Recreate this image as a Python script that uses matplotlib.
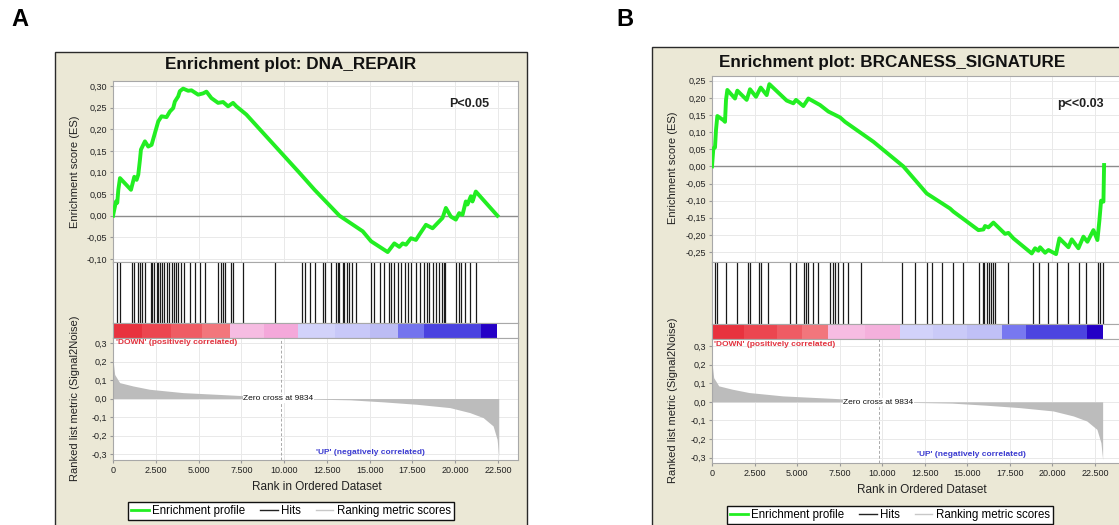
import matplotlib.pyplot as plt
from matplotlib.patches import Rectangle
from matplotlib.lines import Line2D
from matplotlib.ticker import FuncFormatter, MultipleLocator

plt.rcParams['font.family'] = ['Liberation Sans', 'DejaVu Sans']

W, H = 1119, 525

# ---- panel A: DNA_REPAIR
es_rank_a = [0, 175, 250, 311, 408, 1050, 1244, 1380, 1477, 1574, 1633, 1866, 2060, 2255,
             2643, 2837, 3129, 3323, 3518, 3615, 3809, 3906, 4100, 4392, 4586, 4975, 5267,
             5461, 5752, 6141, 6433, 6725, 7015, 7210, 7793, 10902, 11778, 13236, 14594,
             15080, 16052, 16149, 16440, 16732, 16926, 17121, 17412, 17704, 17898, 18287,
             18481, 18676, 19064, 19259, 19453, 19744, 20036, 20230, 20425, 20619, 20716,
             20911, 21008, 21203, 22466]
es_val_a = [0.0, 0.033, 0.030, 0.060, 0.087, 0.060, 0.090, 0.083, 0.095, 0.129, 0.153, 0.172,
            0.160, 0.164, 0.218, 0.230, 0.228, 0.241, 0.249, 0.264, 0.276, 0.288, 0.294, 0.289,
            0.290, 0.280, 0.283, 0.287, 0.272, 0.261, 0.263, 0.253, 0.261, 0.253, 0.234, 0.099,
            0.060, 0.0, -0.036, -0.059, -0.084, -0.079, -0.064, -0.072, -0.064, -0.067, -0.052,
            -0.056, -0.044, -0.021, -0.025, -0.029, -0.013, -0.005, 0.018, -0.002, -0.009,
            0.006, 0.002, 0.033, 0.026, 0.045, 0.033, 0.056, 0.0]
hits_a = [214, 408, 1088, 1224, 1477, 1574, 1710, 1866, 2196, 2293, 2410, 2546, 2643, 2740,
          2876, 2993, 3129, 3285, 3421, 3557, 3673, 3809, 3945, 4139, 4489, 4781, 5072, 5402,
          6141, 6297, 6433, 6569, 6880, 7015, 7598, 9483, 11038, 11194, 11524, 11777, 12263,
          12418, 12749, 13040, 13137, 13234, 13429, 13526, 13662, 13817, 13953, 14206, 15080,
          15236, 15605, 15858, 16149, 16246, 16401, 16635, 16829, 17082, 17257, 17412, 17704,
          17956, 18190, 18345, 18481, 18676, 18870, 19064, 19200, 19317, 19395, 20036, 20192,
          20328, 20561, 20872, 21203]
bar_bounds_a = [0, 1700, 3400, 5200, 6821, 8800, 10806, 13000, 15000, 16635, 18190, 21494, 22465]
bar_colors_a = ['#e8323e', '#ec4650', '#ef5c64', '#f2767c', '#f6bce2', '#f4a8da', '#d2d2fa',
                '#c8c8f8', '#bcbcf4', '#7474ee', '#4a42e0', '#2400c6']
metric_rank_a = [0, 97, 389, 1166, 2138, 4082, 6025, 7968, 9834, 13857, 15800, 17744, 19687,
                 20853, 21630, 22213, 22446, 22543]

# ---- panel B: BRCANESS_SIGNATURE
es_rank_b = [0, 80, 176, 235, 313, 666, 764, 823, 901, 1351, 1488, 2037, 2233, 2585, 2860,
             3213, 3369, 4388, 4780, 4936, 5368, 5662, 6347, 6836, 7521, 7815, 9480, 11240,
             12615, 13986, 14182, 14867, 15651, 15945, 16043, 16239, 16533, 17218, 17413,
             17707, 18785, 18980, 19176, 19274, 19569, 19765, 20214, 20410, 20940, 21135,
             21527, 21821, 22056, 22408, 22644, 22761, 22859, 22997, 23035]
es_val_b = [0.0, 0.053, 0.055, 0.106, 0.147, 0.135, 0.130, 0.194, 0.223, 0.198, 0.221, 0.194,
            0.225, 0.203, 0.230, 0.208, 0.240, 0.192, 0.184, 0.194, 0.176, 0.198, 0.179, 0.160,
            0.143, 0.130, 0.072, 0.0, -0.079, -0.123, -0.132, -0.157, -0.186, -0.184, -0.174,
            -0.178, -0.164, -0.197, -0.194, -0.210, -0.254, -0.239, -0.246, -0.236, -0.252,
            -0.244, -0.256, -0.210, -0.236, -0.213, -0.239, -0.205, -0.220, -0.186, -0.215,
            -0.157, -0.100, -0.103, 0.004]
hits_b = [176, 275, 823, 1450, 2135, 2233, 2781, 2860, 3272, 4584, 4936, 5425, 5524, 5621,
          5955, 6249, 6934, 7130, 7228, 7424, 7678, 8012, 8756, 11146, 11929, 12615, 12948,
          13496, 14182, 14770, 15710, 15906, 15984, 16141, 16297, 16396, 16493, 16630, 17413,
          18882, 19235, 19765, 20254, 20940, 21587, 21978, 22703, 22792, 22988]
bar_bounds_b = [0, 1900, 3800, 5300, 6835, 9000, 11045, 13000, 15000, 17017, 18447, 22011, 22990]
bar_colors_b = ['#e8323e', '#ec4650', '#ef5c64', '#f2767c', '#f6bce2', '#f4b0dc', '#d2d2fa',
                '#cacaf8', '#c0c0f6', '#7878f0', '#4c44e0', '#2400c6']
metric_rank_b = [0, 99, 396, 1187, 2177, 4156, 6134, 8112, 9930, 14107, 16085, 18063, 20041,
                 21228, 22020, 22613, 22850, 22950]

# ranking metric (Signal2Noise), same list for both panels
metric_val = [0.21, 0.13, 0.086, 0.068, 0.05, 0.032, 0.023, 0.014, 0.0, -0.007, -0.018,
              -0.031, -0.049, -0.076, -0.103, -0.148, -0.22, -0.31]
zero_cross = 9834


def box(l, t, r, b):
    return [l / W, 1 - b / H, (r - l) / W, (b - t) / H]


def fx(x):
    return x / W


def fy(y):
    return 1 - y / H


fig = plt.figure(figsize=(W / 100, H / 100), dpi=100)
fig.patch.set_facecolor('white')

SPINE = '#a8a8a8'
GRID = '#e9e9e9'


def style(ax):
    for s in ax.spines.values():
        s.set_color(SPINE)
        s.set_linewidth(0.8)
    ax.tick_params(labelsize=6.5, length=2, color='#999999', pad=2, labelcolor='#222222')


def panel(g, title, ptext, es_rank, es_val, es_lim, hits, bounds, colors, m_rank):
    l, r = g['l'], g['r']
    xmax = (r - l) * g['rpp']

    fig.add_artist(Rectangle((fx(g['bx']), fy(H + 10)), fx(g['bx_r'] - g['bx']),
                             (H + 10 - g['by']) / H, transform=fig.transFigure,
                             facecolor='#ebe8d6', edgecolor='#2a2a2a', lw=1, zorder=-5))
    fig.text(fx(g['title_x']), fy(g['title_y']), title, ha='center', va='center',
             fontsize=12.3, fontweight='bold', color='#111111')

    # enrichment score
    ax = fig.add_axes(box(l, g['t'], r, g['hits']))
    ax.plot(es_rank, es_val, color='#22ee22', lw=2.8, solid_joinstyle='round', zorder=3)
    ax.axhline(0, color='#8c8c8c', lw=1, zorder=2)
    ax.set_xlim(0, xmax)
    ax.set_ylim(*es_lim)
    ax.xaxis.set_major_locator(MultipleLocator(2500))
    ax.yaxis.set_major_locator(MultipleLocator(0.05))
    ax.yaxis.set_major_formatter(FuncFormatter(lambda v, p: f'{v:.2f}'.replace('.', ',').replace('-0,00', '0,00')))
    ax.tick_params(axis='x', length=0, labelbottom=False)
    ax.grid(color=GRID, lw=0.7)
    ax.set_axisbelow(True)
    style(ax)
    fig.text(fx(g['p_x']), fy(g['p_y']), ptext, ha='center', va='center', fontsize=9,
             fontweight='bold', color='#222222')

    # hits
    axh = fig.add_axes(box(l, g['hits'], r, g['bar']))
    axh.vlines(hits, 0, 1, color='#1a1a1a', lw=0.9)
    axh.set_xlim(0, xmax)
    axh.set_ylim(0, 1)
    axh.set_xticks([])
    axh.set_yticks([])
    style(axh)

    # colour bar
    axb = fig.add_axes(box(l, g['bar'], r, g['met']))
    for i in range(len(colors)):
        axb.axvspan(bounds[i], bounds[i + 1], color=colors[i], lw=0)
    axb.set_xlim(0, xmax)
    axb.set_xticks([])
    axb.set_yticks([])
    style(axb)

    # ranked list metric
    axm = fig.add_axes(box(l, g['met'], r, g['b']))
    axm.fill_between(m_rank, metric_val, 0, color='#bcbcbc', lw=0, zorder=2)
    axm.axvline(zero_cross, color='#aaaaaa', lw=0.7, ls=(0, (3, 2)), zorder=1)
    axm.set_xlim(0, xmax)
    axm.set_ylim(*g['m_lim'])
    axm.xaxis.set_major_locator(MultipleLocator(2500))
    axm.yaxis.set_major_locator(MultipleLocator(0.1))
    axm.xaxis.set_major_formatter(FuncFormatter(lambda v, p: f'{int(round(v)):,}'.replace(',', '.')))
    axm.yaxis.set_major_formatter(FuncFormatter(lambda v, p: f'{v:.1f}'.replace('.', ',').replace('-0,0', '0,0')))
    axm.grid(color=GRID, lw=0.7)
    axm.set_axisbelow(True)
    style(axm)
    fig.text(fx(g['down_x']), fy(g['down_y']), "'DOWN' (positively correlated)", ha='left',
             va='center', fontsize=6, fontweight='bold', color='#e2323e')
    fig.text(fx(g['up_x']), fy(g['up_y']), "'UP' (negatively correlated)", ha='left',
             va='center', fontsize=6, fontweight='bold', color='#3a3ad0')
    fig.text(fx(g['zc_x']), fy(g['zc_y']), f'Zero cross at {zero_cross}', ha='left',
             va='center', fontsize=6, color='#111111',
             bbox=dict(facecolor='white', edgecolor='none', pad=0.3))

    fig.text(fx(g['yl_x']), fy(g['yl1_y']), 'Enrichment score (ES)', rotation=90,
             ha='center', va='center', fontsize=8, color='#222222')
    fig.text(fx(g['yl_x']), fy(g['yl2_y']), 'Ranked list metric (Signal2Noise)', rotation=90,
             ha='center', va='center', fontsize=8, color='#222222')
    fig.text(fx(g['xl_x']), fy(g['xl_y']), 'Rank in Ordered Dataset', ha='center',
             va='center', fontsize=8.5, color='#222222')

    handles = [Line2D([], [], color='#22ee22', lw=2),
               Line2D([], [], color='#222222', lw=1),
               Line2D([], [], color='#c8c8c8', lw=1)]
    leg = fig.legend(handles, ['Enrichment profile', 'Hits', 'Ranking metric scores'],
                     loc='center', bbox_to_anchor=(fx(g['lg_x']), fy(g['lg_y'])), ncol=3,
                     fontsize=8.3, handlelength=1.5, handletextpad=0.3, columnspacing=1.3,
                     borderpad=0.3, fancybox=False, framealpha=1)
    leg.get_frame().set_edgecolor('#111111')
    leg.get_frame().set_linewidth(1)


geo_a = dict(bx=55, bx_r=527, by=52, l=113, r=518, t=81, hits=262, bar=323, met=338, b=460,
             rpp=58.44, m_lim=(-0.332, 0.327), title_x=291, title_y=65, p_x=469, p_y=104,
             down_x=116, down_y=343, up_x=316, up_y=452, zc_x=243, zc_y=399,
             yl_x=75, yl1_y=172, yl2_y=398, xl_x=317, xl_y=487, lg_x=291, lg_y=511)
geo_b = dict(bx=652, bx_r=1200, by=47, l=712, r=1125, t=76, hits=262, bar=324, met=339,
             b=463, rpp=58.75, m_lim=(-0.329, 0.338), title_x=892, title_y=62, p_x=1080,
             p_y=104, down_x=714, down_y=345, up_x=917, up_y=455, zc_x=843, zc_y=402,
             yl_x=673, yl1_y=168, yl2_y=400, xl_x=922, xl_y=490, lg_x=890, lg_y=515)

panel(geo_a, 'Enrichment plot: DNA_REPAIR', 'P<0.05', es_rank_a, es_val_a,
      (-0.107, 0.3116), hits_a, bar_bounds_a, bar_colors_a, metric_rank_a)
panel(geo_b, 'Enrichment plot: BRCANESS_SIGNATURE', 'p<<0.03', es_rank_b, es_val_b,
      (-0.279, 0.2637), hits_b, bar_bounds_b, bar_colors_b, metric_rank_b)

fig.text(fx(20), fy(19), 'A', ha='center', va='center', fontsize=17, fontweight='bold')
fig.text(fx(625), fy(20), 'B', ha='center', va='center', fontsize=17, fontweight='bold')

fig.savefig('out.png', dpi=100)
